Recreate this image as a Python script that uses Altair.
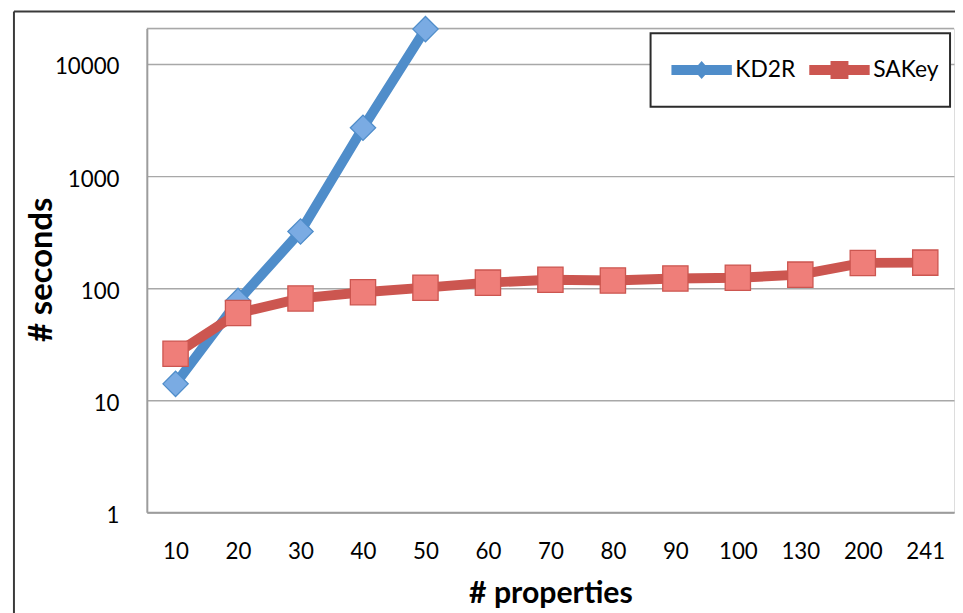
import altair as alt
import pandas as pd

# ---- data ----
categories = ["10", "20", "30", "40", "50", "60", "70", "80", "90", "100", "130", "200", "241"]
kd2r_values = [14, 77, 320, 2700, 20500]
sakey_values = [26, 60, 81, 92, 101, 112, 119, 117, 122, 124, 132, 168, 169]
series_names = ["KD2R", "SAKey"]
y_ticks = [1, 10, 100, 1000, 10000]

rows = []
for c, v in zip(categories, kd2r_values):
    rows.append({"props": c, "seconds": v, "series": "KD2R"})
for c, v in zip(categories, sakey_values):
    rows.append({"props": c, "seconds": v, "series": "SAKey"})
df = pd.DataFrame(rows)

W, H = 814, 488
FONT = "Lato"

line_colors = ["#4F8DCA", "#CC5650"]
fill_colors = ["#7AABE3", "#EF7E79"]

stroke_scale = alt.Scale(domain=series_names, range=line_colors)

x_enc = alt.X(
    "props:N", sort=categories,
    scale=alt.Scale(type="point", padding=0.46),
    axis=alt.Axis(
        title="# properties", labelAngle=0, ticks=False, tickSize=0,
        labelPadding=29, labelFontSize=22.5, labelFont=FONT, labelColor="#000",
        domainColor="#9c9c9c", domainWidth=2, grid=False,
        titleFont=FONT, titleFontSize=30.5, titleFontWeight="bold", titleColor="#000",
        titleBaseline="alphabetic", titleY=91,
    ),
)
y_enc = alt.Y(
    "seconds:Q",
    scale=alt.Scale(type="log", domain=[1, 20800], nice=False),
    axis=alt.Axis(
        values=y_ticks, format="d", ticks=False, tickSize=0,
        labelPadding=28, labelFontSize=22.5, labelFont=FONT, labelColor="#000",
        labelOffset=3,
        domainColor="#9c9c9c", domainWidth=2,
        grid=True, gridColor="#a8a8a8", gridWidth=1.5,
        title="# seconds", titleFont=FONT, titleFontSize=33, titleFontWeight="bold",
        titleColor="#000", titleBaseline="alphabetic", titleX=-96, titleY=243,
    ),
)

base = alt.Chart(df)

lines = base.mark_line(strokeWidth=10).encode(
    x=x_enc, y=y_enc,
    stroke=alt.Stroke("series:N", scale=stroke_scale, legend=None),
)

points = base.mark_point(filled=True, size=650, strokeWidth=1.3, opacity=1).encode(
    x=x_enc, y=y_enc,
    shape=alt.Shape("series:N", scale=alt.Scale(domain=series_names, range=["diamond", "square"]), legend=None),
    fill=alt.Fill("series:N", scale=alt.Scale(domain=series_names, range=fill_colors), legend=None),
    stroke=alt.Stroke("series:N", scale=stroke_scale, legend=None),
)

# legend glyphs: thick line + marker (extra move-to points give the entry its height)
legend_paths = [
    "M0,-1M0,1M-1.45,-0.24L1.45,-0.24L1.45,0.24L-1.45,0.24Z M0,-0.43L0.38,0L0,0.43L-0.38,0Z",
    "M0,-1M0,1M-1.45,-0.24L1.45,-0.24L1.45,0.24L-1.45,0.24Z M-0.43,-0.43L0.43,-0.43L0.43,0.43L-0.43,0.43Z",
]
legend_x = [513, 652]

legend_layers = []
for i, name in enumerate(series_names):
    lg = alt.Legend(
        title=None, orient="none", legendX=legend_x[i], legendY=5, direction="horizontal",
        symbolSize=1764, symbolStrokeWidth=0, symbolOffset=9.5, symbolOpacity=1,
        labelOffset=13, padding=16,
        labelFont=FONT, labelFontSize=23, labelColor="#000",
    )
    legend_layers.append(
        base.mark_point(filled=True, color=line_colors[i], opacity=1)
        .transform_filter("false")
        .encode(shape=alt.Shape("series:N", scale=alt.Scale(domain=[name], range=[legend_paths[i]]), legend=lg))
    )

one = alt.Data(values=[{}])
legend_box = alt.Chart(one).mark_rect(fill="#ffffff", stroke="#2b2b2b", strokeWidth=2).encode(
    x=alt.value(508), x2=alt.value(810), y=alt.value(5), y2=alt.value(79)
)
top_grid = alt.Chart(one).mark_rule(color="#a8a8a8", strokeWidth=1.5).encode(
    x=alt.value(0), x2=alt.value(W), y=alt.value(0)
)
frame_left = alt.Chart(one).mark_rule(color="#3a3a3a", strokeWidth=2).encode(
    x=alt.value(-134), y=alt.value(-17), y2=alt.value(600)
)
frame_top = alt.Chart(one).mark_rule(color="#3a3a3a", strokeWidth=2).encode(
    x=alt.value(-134), x2=alt.value(W + 5), y=alt.value(-17)
)

chart = (
    alt.layer(top_grid, frame_left, frame_top, lines, points, legend_box, *legend_layers)
    .resolve_scale(shape="independent")
    .properties(
        width=W, height=H,
        autosize=alt.AutoSizeParams(type="none"),
        padding={"left": 140, "top": 18, "right": 1, "bottom": 99},
    )
    .configure_view(strokeWidth=0)
    .configure(font=FONT)
)

chart.save("out.html", embed_options={"renderer": "svg", "actions": False})
